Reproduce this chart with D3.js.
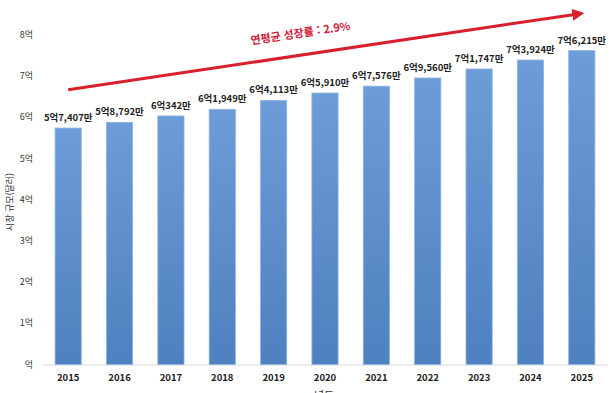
<!DOCTYPE html>
<html lang="ko">
<head>
  <meta charset="UTF-8">
  <title>시장 규모</title>
  <style>
    body {
      margin: 0;
      background: #fff;
      font-family: "Noto Sans CJK KR", "Noto Sans", sans-serif;
    }
    .tick-y { font-size: 9px; fill: #333; }
    .tick-x { font-size: 9.5px; font-weight: 700; fill: #222; }
    .value-label { font-size: 9.5px; font-weight: 700; fill: #222; }
  </style>
</head>
<body>
<div id="chart"></div>

<script src="https://d3js.org/d3.v7.min.js"></script>
<script>
  // data (units: 억)
  const years = ["2015", "2016", "2017", "2018", "2019", "2020", "2021", "2022", "2023", "2024", "2025"];
  const values = [5.7407, 5.8792, 6.0342, 6.1949, 6.4113, 6.5910, 6.7576, 6.9560, 7.1747, 7.3924, 7.6215];
  const valueLabels = ["5억7,407만", "5억8,792만", "6억342만", "6억1,949만", "6억4,113만", "6억5,910만",
                       "6억7,576만", "6억9,560만", "7억1,747만", "7억3,924만", "7억6,215만"];
  const yTicks = [0, 1, 2, 3, 4, 5, 6, 7, 8];
  const yTickLabels = ["억", "1억", "2억", "3억", "4억", "5억", "6억", "7억", "8억"];
  const growthText = "연평균 성장률 : 2.9%";

  const W = 615, H = 393;
  const svg = d3.select("#chart").append("svg")
    .attr("width", W)
    .attr("height", H);

  const x = d3.scaleBand()
    .domain(years)
    .range([42.5, 607.5])
    .paddingInner(0.49)
    .paddingOuter(0.245);

  const y = d3.scaleLinear()
    .domain([0, 8])
    .range([364.5, 35]);

  // bar gradient
  const defs = svg.append("defs");
  const grad = defs.append("linearGradient")
    .attr("id", "barGrad")
    .attr("x1", 0).attr("y1", 0).attr("x2", 0).attr("y2", 1);
  grad.append("stop").attr("offset", "0%").attr("stop-color", "#6c9dd8");
  grad.append("stop").attr("offset", "100%").attr("stop-color", "#4f80bf");

  defs.append("marker")
    .attr("id", "arrowHead")
    .attr("viewBox", "0 0 10 10")
    .attr("refX", 2)
    .attr("refY", 5)
    .attr("markerWidth", 4)
    .attr("markerHeight", 4)
    .attr("orient", "auto")
    .append("path")
    .attr("d", "M0,0 L10,5 L0,10 Z")
    .attr("fill", "#d91f2b");

  // baseline
  svg.append("line")
    .attr("x1", 42.5).attr("x2", 607.5)
    .attr("y1", y(0) + 0.5).attr("y2", y(0) + 0.5)
    .attr("stroke", "#d9d9d9")
    .attr("stroke-width", 1);

  // bars
  svg.selectAll("rect.bar")
    .data(values)
    .enter().append("rect")
    .attr("class", "bar")
    .attr("x", (d, i) => x(years[i]))
    .attr("y", d => y(d))
    .attr("width", x.bandwidth())
    .attr("height", d => y(0) - y(d))
    .attr("fill", "url(#barGrad)")
    .attr("stroke", "#8db3e2")
    .attr("stroke-width", 0.8);

  // value labels
  svg.selectAll("text.value-label")
    .data(values)
    .enter().append("text")
    .attr("class", "value-label")
    .attr("x", (d, i) => x(years[i]) + x.bandwidth() / 2)
    .attr("y", d => y(d) - 7)
    .attr("text-anchor", "middle")
    .text((d, i) => valueLabels[i]);

  // y tick labels
  svg.selectAll("text.tick-y")
    .data(yTicks)
    .enter().append("text")
    .attr("class", "tick-y")
    .attr("x", 33)
    .attr("y", d => y(d) + 3)
    .attr("text-anchor", "end")
    .text((d, i) => yTickLabels[i]);

  // x tick labels
  svg.selectAll("text.tick-x")
    .data(years)
    .enter().append("text")
    .attr("class", "tick-x")
    .attr("x", d => x(d) + x.bandwidth() / 2)
    .attr("y", 381)
    .attr("text-anchor", "middle")
    .text(d => d);

  // axis titles
  svg.append("text")
    .attr("transform", "translate(13,202) rotate(-90)")
    .attr("text-anchor", "middle")
    .style("font-size", "9px")
    .style("fill", "#333")
    .text("시장 규모(달러)");

  svg.append("text")
    .attr("x", 324)
    .attr("y", 400)
    .attr("text-anchor", "middle")
    .style("font-size", "11px")
    .style("fill", "#333")
    .text("년도");

  // growth arrow
  const ax0 = x(years[0]) + x.bandwidth() / 2, ay0 = y(6.67);
  const ax1 = x(years[years.length - 1]) + x.bandwidth() / 2 - 7, ay1 = y(8.5);
  svg.append("line")
    .attr("x1", ax0).attr("y1", ay0)
    .attr("x2", ax1).attr("y2", ay1)
    .attr("stroke", "#d91f2b")
    .attr("stroke-width", 3)
    .attr("marker-end", "url(#arrowHead)");

  const angle = Math.atan2(ay1 - ay0, ax1 - ax0) * 180 / Math.PI;
  svg.append("text")
    .attr("transform", `translate(301,37) rotate(${angle})`)
    .attr("text-anchor", "middle")
    .style("font-size", "11px")
    .style("font-weight", "700")
    .style("fill", "#d0213a")
    .text(growthText);
</script>
</body>
</html>
